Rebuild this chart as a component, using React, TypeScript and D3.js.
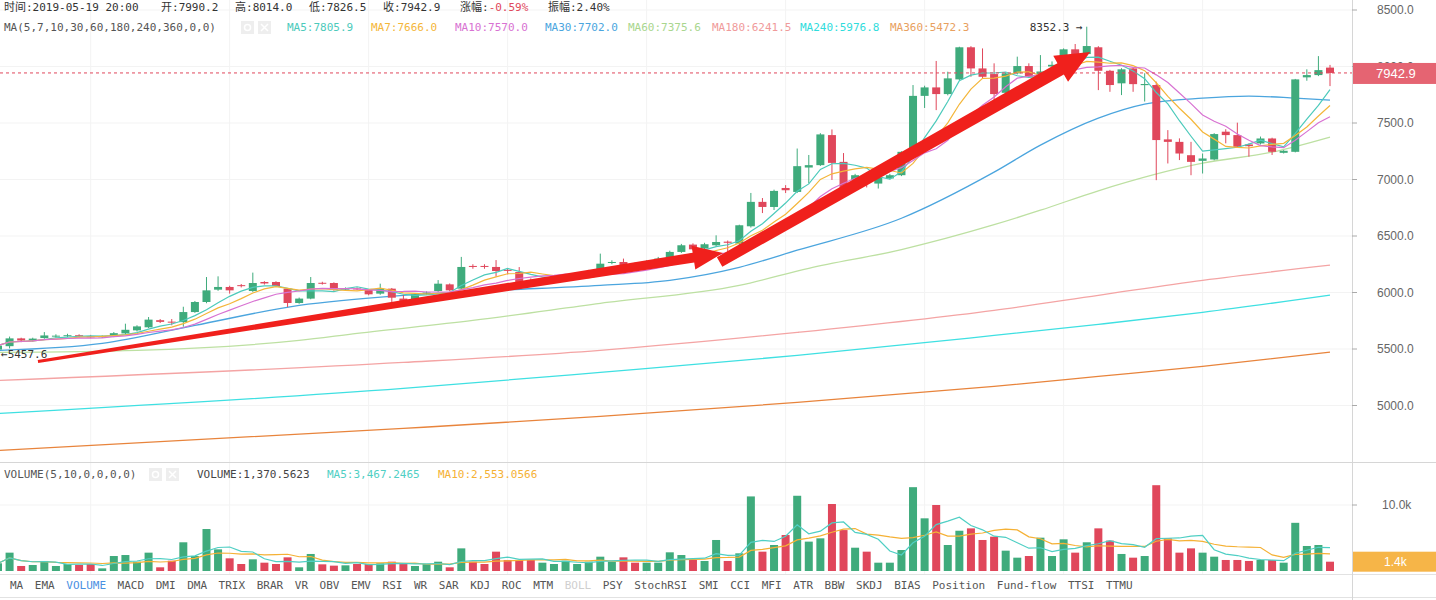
import React from "react";
import * as d3 from "d3";

// 4h candles, [open, high, low, close]
const ohlc: number[][] = [
  [5495, 5560, 5457.6, 5530], [5525, 5610, 5505, 5594], [5594, 5600, 5560, 5575], [5575, 5600, 5565, 5592],
  [5597, 5650, 5590, 5620], [5612, 5630, 5600, 5618], [5615, 5635, 5605, 5622], [5622, 5630, 5600, 5612],
  [5612, 5625, 5595, 5605], [5605, 5620, 5598, 5612], [5612, 5650, 5605, 5640], [5638, 5724, 5630, 5670],
  [5665, 5710, 5655, 5700], [5692, 5783, 5685, 5760], [5755, 5765, 5730, 5740], [5742, 5765, 5710, 5735],
  [5738, 5874, 5697, 5827], [5827, 5925, 5820, 5916], [5916, 6137, 5905, 6019], [6025, 6143, 6015, 6049],
  [6049, 6060, 5990, 6019], [6065, 6075, 6045, 6058], [6013, 6176, 6005, 6084], [6093, 6100, 6070, 6080],
  [6093, 6100, 6050, 6057], [6034, 6040, 5871, 5907], [5907, 5955, 5900, 5946], [5946, 6137, 5940, 6084],
  [6086, 6095, 6070, 6080], [6084, 6090, 6015, 6025], [6025, 6045, 6020, 6034], [6036, 6045, 6020, 6030],
  [6025, 6030, 5975, 5984], [5990, 6078, 5980, 6034], [6034, 6040, 5916, 5954], [5946, 5978, 5910, 5920],
  [5937, 5990, 5930, 5984], [5990, 6010, 5980, 6000], [6013, 6110, 6005, 6078], [6072, 6080, 6010, 6019],
  [6034, 6315, 6025, 6226], [6235, 6250, 6210, 6228], [6235, 6250, 6210, 6228], [6226, 6287, 6140, 6190],
  [6200, 6215, 6160, 6193], [6181, 6225, 6085, 6093], [6110, 6125, 6085, 6100], [6100, 6130, 6090, 6115],
  [6112, 6135, 6100, 6125], [6122, 6150, 6110, 6140], [6138, 6160, 6125, 6150], [6176, 6200, 6160, 6181],
  [6196, 6344, 6185, 6255], [6262, 6285, 6250, 6270], [6270, 6300, 6230, 6241], [6250, 6265, 6225, 6240],
  [6240, 6285, 6230, 6270], [6270, 6315, 6260, 6300], [6309, 6370, 6300, 6359], [6359, 6430, 6350, 6418],
  [6424, 6435, 6375, 6382], [6389, 6440, 6380, 6427], [6418, 6506, 6410, 6447], [6450, 6460, 6350, 6440],
  [6433, 6600, 6420, 6595], [6586, 6881, 6575, 6802], [6802, 6836, 6703, 6757], [6757, 6910, 6730, 6899],
  [6925, 6950, 6880, 6905], [6890, 7274, 6880, 7118], [7106, 7217, 6966, 7127], [7127, 7410, 7120, 7399],
  [7393, 7443, 6996, 7147], [7156, 7234, 6910, 6920], [6994, 7050, 6913, 7038], [7030, 7065, 6930, 7000],
  [6964, 7025, 6920, 7017], [7009, 7050, 7000, 7038], [7038, 7250, 7030, 7245], [7265, 7836, 7255, 7740],
  [7740, 7830, 7633, 7815], [7815, 8049, 7614, 7756], [7756, 7954, 7745, 7895], [7886, 8175, 7880, 8170],
  [8170, 8180, 7909, 7983], [7983, 8160, 7895, 7909], [7933, 8028, 7703, 7756], [7767, 7950, 7750, 7939],
  [7939, 8087, 7930, 8004], [8004, 8028, 7900, 7909], [7924, 8101, 7915, 7956], [8000, 8045, 7995, 8015],
  [8063, 8160, 8050, 8152], [8152, 8199, 8095, 8101], [8110, 8352.3, 8100, 8181], [8170, 8180, 7791, 7962],
  [7962, 7970, 7776, 7836], [7851, 7985, 7747, 7975], [7983, 7990, 7776, 7844], [7835, 7940, 7690, 7845],
  [7836, 7866, 6994, 7349], [7355, 7437, 7142, 7333], [7333, 7364, 7172, 7230], [7215, 7333, 7038, 7156],
  [7165, 7230, 7053, 7186], [7177, 7410, 7170, 7402], [7423, 7445, 7320, 7393], [7393, 7503, 7280, 7289],
  [7310, 7320, 7202, 7295], [7319, 7380, 7310, 7363], [7363, 7370, 7217, 7245], [7236, 7260, 7230, 7254],
  [7245, 7890, 7240, 7886], [7904, 7975, 7874, 7924], [7924, 8092, 7915, 7968], [7990.2, 8014.0, 7826.5, 7942.9],
];

// volume in thousands
const volumes = [
  1.17, 2.78, 0.76, 0.91, 1.52, 0.76, 1.06, 0.91, 1.06, 0.4, 2.27, 2.42, 1.41, 2.78, 0.56, 1.56,
  4.35, 2.27, 6.36, 3.28, 1.92, 1.06, 1.77, 1.26, 1.06, 2.07, 0.56, 2.58, 1.01, 0.81, 0.86, 1.06,
  1.06, 1.17, 1.41, 1.06, 0.76, 1.06, 1.41, 0.56, 3.43, 1.41, 1.06, 2.93, 1.67, 1.67, 1.67, 1.26,
  1.06, 1.56, 1.06, 1.41, 2.17, 1.41, 2.07, 1.26, 1.26, 1.26, 2.83, 2.42, 1.67, 1.52, 4.7, 1.52,
  2.68, 11.3, 2.93, 3.94, 5.45, 11.4, 4.45, 4.95, 10.15, 6.2, 3.53, 2.93, 1.26, 1.26, 3.18, 12.7,
  7.98, 10.0, 3.94, 6.1, 6.46, 4.7, 5.2, 3.08, 2.02, 2.27, 5.05, 2.27, 4.8, 2.78, 4.35, 6.46,
  4.6, 2.58, 2.02, 2.27, 13.0, 4.95, 2.78, 3.43, 2.78, 2.17, 1.67, 1.67, 1.52, 1.67, 1.67, 1.26,
  7.3, 3.79, 3.94, 1.41,
];

// long moving averages: [candle index, value]
const ma30Pts = [[0, 5488], [9, 5550], [17, 5709], [26, 5886], [35, 5975], [43, 6019], [52, 6063], [58, 6108],
  [64, 6223], [69, 6374], [78, 6657], [86, 7065], [90, 7304], [95, 7543], [99, 7667], [104, 7720], [108, 7738],
  [112, 7720], [115, 7702]];
const ma60Pts = [[0, 5470], [12, 5488], [26, 5576], [31, 5638], [41, 5753], [52, 5904], [64, 6063], [70, 6214],
  [78, 6380], [86, 6600], [90, 6728], [95, 6900], [104, 7144], [110, 7242], [115, 7375.6]];
const ma180Pts = [[0, 5222], [35, 5381], [52, 5488], [69, 5647], [86, 5842], [95, 5975], [104, 6108], [115, 6241.5]];
const ma240Pts = [[0, 4929], [35, 5151], [52, 5293], [69, 5443], [86, 5620], [95, 5718], [104, 5824], [115, 5976.8]];
const ma360Pts = [[0, 4602], [35, 4797], [52, 4903], [69, 5027], [86, 5169], [95, 5257], [104, 5346], [115, 5472.3]];

const priceTicks = [5000, 5500, 6000, 6500, 7000, 7500, 8000, 8500];
const indicators = ["MA", "EMA", "VOLUME", "MACD", "DMI", "DMA", "TRIX", "BRAR", "VR", "OBV", "EMV", "RSI", "WR",
  "SAR", "KDJ", "ROC", "MTM", "BOLL", "PSY", "StochRSI", "SMI", "CCI", "MFI", "ATR", "BBW", "SKDJ", "BIAS",
  "Position", "Fund-flow", "TTSI", "TTMU"];

// trend arrows drawn on the chart: [index, price] -> [index, price]
const trendArrows = [
  { from: [3.45, 5390], to: [62.6, 6350], w0: 3, w1: 10, head: 30, headW: 24 },
  { from: [62.3, 6270], to: [94.3, 8128], w0: 11, w1: 13, head: 34, headW: 30 },
];

const UP = "#3fab7c";
const DOWN = "#e0475b";
const MONO = "'DejaVu Sans Mono', 'Noto Sans CJK SC', monospace";
const SANS = "'Liberation Sans', Arial, sans-serif";

function movingAvg(vals: number[], n: number): [number, number][] {
  return vals.map((_, i) => {
    const s = vals.slice(Math.max(0, i - n + 1), i + 1);
    return [i, d3.mean(s) as number];
  });
}

function arrowPoly(sx: number, sy: number, tx: number, ty: number, w0: number, w1: number, head: number, headW: number) {
  const len = Math.hypot(tx - sx, ty - sy);
  const dx = (tx - sx) / len, dy = (ty - sy) / len;
  const nx = -dy, ny = dx;
  const bx = tx - dx * head, by = ty - dy * head;
  const pts = [
    [sx + nx * w0 / 2, sy + ny * w0 / 2],
    [bx + nx * w1 / 2, by + ny * w1 / 2],
    [bx + nx * headW / 2, by + ny * headW / 2],
    [tx, ty],
    [bx - nx * headW / 2, by - ny * headW / 2],
    [bx - nx * w1 / 2, by - ny * w1 / 2],
    [sx - nx * w0 / 2, sy - ny * w0 / 2],
  ];
  return pts.map(p => p.join(",")).join(" ");
}

export default function App() {
  const W = 1436, H = 600, axisX = 1352;
  const x = d3.scaleLinear().domain([0, 115]).range([-2, 1330]);
  const y = d3.scaleLinear().domain([4500, 8500]).range([462, 10]);
  const yv = d3.scaleLinear().domain([0, 10]).range([571, 505]);

  const closes = ohlc.map(d => d[3]);
  const smooth = d3.line<number[]>().x(d => x(d[0])).y(d => y(d[1])).curve(d3.curveMonotoneX);
  const straight = d3.line<number[]>().x(d => x(d[0])).y(d => y(d[1]));
  const volLine = d3.line<number[]>().x(d => x(d[0])).y(d => yv(d[1]));

  const shortMAs = [
    { n: 5, color: "#4ccabb" },
    { n: 7, color: "#f4b63a" },
    { n: 10, color: "#d872d2" },
  ];
  const longMAs = [
    { pts: ma360Pts, color: "#e8843c" },
    { pts: ma240Pts, color: "#3fe0e2" },
    { pts: ma180Pts, color: "#f4a4a4" },
    { pts: ma60Pts, color: "#bde0a2" },
    { pts: ma30Pts, color: "#4ba5de" },
  ];

  const last = ohlc[ohlc.length - 1];
  const hiIdx = d3.maxIndex(ohlc, d => d[1]);
  const loIdx = d3.minIndex(ohlc, d => d[2]);

  let cx = 10;
  const toolbar = indicators.map(t => {
    const item = { t, x: cx };
    cx += t.length * 6.62 + 11.6;
    return item;
  });

  const header2 = [
    { t: "MA5:7805.9", x: 287, c: "#4ccabb" },
    { t: "MA7:7666.0", x: 371, c: "#f4b63a" },
    { t: "MA10:7570.0", x: 455, c: "#d872d2" },
    { t: "MA30:7702.0", x: 545, c: "#4ba5de" },
    { t: "MA60:7375.6", x: 628, c: "#a9d68e" },
    { t: "MA180:6241.5", x: 712, c: "#f09a9a" },
    { t: "MA240:5976.8", x: 800, c: "#2fdcdc" },
    { t: "MA360:5472.3", x: 890, c: "#e8a060" },
  ];

  const icons = (x0: number, y0: number) => (
    <g>
      <rect x={x0} y={y0} width={13} height={13} fill="#eeeeee" />
      <circle cx={x0 + 6.5} cy={y0 + 6.5} r={3} fill="none" stroke="#fff" strokeWidth={1.5} />
      <rect x={x0 + 17} y={y0} width={13} height={13} fill="#eeeeee" />
      <path d={`M${x0 + 20},${y0 + 3}L${x0 + 27},${y0 + 10}M${x0 + 27},${y0 + 3}L${x0 + 20},${y0 + 10}`} stroke="#fff" strokeWidth={1.5} />
    </g>
  );

  return (
    <div style={{ position: "fixed", left: 0, top: 0 }}>
      <svg width={W} height={H} style={{ display: "block", background: "#fff" }}>
        <defs>
          <clipPath id="pricePane"><rect x={0} y={0} width={axisX} height={462} /></clipPath>
          <clipPath id="volPane"><rect x={0} y={463} width={axisX} height={111} /></clipPath>
        </defs>

        {/* grid */}
        {priceTicks.map(t => (
          <line key={t} x1={0} x2={axisX} y1={y(t)} y2={y(t)} stroke="#f3f3f3" />
        ))}
        {d3.range(8, 116, 12).map(i => (
          <line key={i} x1={x(i)} x2={x(i)} y1={0} y2={574} stroke="#f3f3f3" />
        ))}
        <line x1={0} x2={axisX} y1={yv(10)} y2={yv(10)} stroke="#f3f3f3" />

        {/* pane borders */}
        <line x1={0} x2={W} y1={462.5} y2={462.5} stroke="#d6d6d6" />
        <line x1={0} x2={W} y1={574.5} y2={574.5} stroke="#e2e2e2" />
        <line x1={0} x2={W} y1={597.5} y2={597.5} stroke="#e2e2e2" />
        <line x1={axisX + 0.5} x2={axisX + 0.5} y1={0} y2={H} stroke="#d6d6d6" />

        <g clipPath="url(#pricePane)">
          {longMAs.map((m, k) => (
            <path key={k} d={smooth(m.pts) || ""} fill="none" stroke={m.color} strokeWidth={1.3} />
          ))}
          {ohlc.map((d, i) => {
            const [o, h, l, c] = d;
            const col = c >= o ? UP : DOWN;
            const top = y(Math.max(o, c));
            const bh = Math.max(1, Math.abs(y(o) - y(c)));
            return (
              <g key={i}>
                <line x1={x(i)} x2={x(i)} y1={y(h)} y2={y(l)} stroke={col} strokeWidth={1} />
                <rect x={x(i) - 4} y={top} width={8} height={bh} fill={col} />
              </g>
            );
          })}
          {shortMAs.map(m => (
            <path key={m.n} d={straight(movingAvg(closes, m.n)) || ""} fill="none" stroke={m.color} strokeWidth={1.2} />
          ))}
          <line x1={0} x2={axisX} y1={y(last[3])} y2={y(last[3])} stroke={DOWN} strokeDasharray="3,3" strokeWidth={1} />
          {trendArrows.map((a, k) => (
            <polygon key={k} fill="#f0201c"
              points={arrowPoly(x(a.from[0]), y(a.from[1]), x(a.to[0]), y(a.to[1]), a.w0, a.w1, a.head, a.headW)} />
          ))}
          <text x={x(hiIdx) - 4} y={y(ohlc[hiIdx][1]) + 4} textAnchor="end" fontFamily={MONO} fontSize={11} fill="#333">
            {ohlc[hiIdx][1].toFixed(1)} →
          </text>
          <text x={x(loIdx) + 3} y={y(ohlc[loIdx][2]) + 4} fontFamily={MONO} fontSize={11} fill="#333">
            ←{ohlc[loIdx][2].toFixed(1)}
          </text>
        </g>

        <g clipPath="url(#volPane)">
          {volumes.map((v, i) => {
            const col = ohlc[i][3] >= ohlc[i][0] ? UP : DOWN;
            return <rect key={i} x={x(i) - 4} y={yv(v)} width={8} height={yv(0) - yv(v)} fill={col} />;
          })}
          <path d={volLine(movingAvg(volumes, 10)) || ""} fill="none" stroke="#f5b135" strokeWidth={1.2} />
          <path d={volLine(movingAvg(volumes, 5)) || ""} fill="none" stroke="#4fcfc4" strokeWidth={1.2} />
        </g>

        {/* price axis */}
        {priceTicks.map(t => (
          <g key={t}>
            <line x1={axisX} x2={axisX + 5} y1={y(t)} y2={y(t)} stroke="#aaa" />
            <text x={1377} y={y(t) + 4} fontFamily={SANS} fontSize={12} fill="#666">{t.toFixed(1)}</text>
          </g>
        ))}
        <rect x={axisX + 1} y={y(last[3]) - 10} width={W - axisX} height={21} fill="#e56472" />
        <text x={1376} y={y(last[3]) + 5} fontFamily={SANS} fontSize={13} fill="#fff">{last[3].toFixed(1)}</text>

        {/* volume axis */}
        <line x1={axisX} x2={axisX + 5} y1={yv(10)} y2={yv(10)} stroke="#aaa" />
        <text x={1382} y={yv(10) + 4} fontFamily={SANS} fontSize={12} fill="#666">10.0k</text>
        <rect x={axisX + 1} y={yv(volumes[volumes.length - 1]) - 10} width={W - axisX} height={20} fill="#f6b548" />
        <text x={1384} y={yv(volumes[volumes.length - 1]) + 4} fontFamily={SANS} fontSize={12} fill="#fff">
          {volumes[volumes.length - 1].toFixed(1)}k
        </text>

        {/* header */}
        <g fontFamily={MONO} fontSize={11} fill="#333">
          <text x={4} y={11}>时间:2019-05-19 20:00</text>
          <text x={161} y={11}>开:{last[0].toFixed(1)}</text>
          <text x={235} y={11}>高:{last[1].toFixed(1)}</text>
          <text x={309} y={11}>低:{last[2].toFixed(1)}</text>
          <text x={383} y={11}>收:{last[3].toFixed(1)}</text>
          <text x={460} y={11}>涨幅:<tspan fill={DOWN}>-0.59%</tspan></text>
          <text x={548} y={11}>振幅:2.40%</text>
          <text x={4} y={31} fill="#555">MA(5,7,10,30,60,180,240,360,0,0)</text>
          {header2.map(h => <text key={h.t} x={h.x} y={31} fill={h.c}>{h.t}</text>)}
          <text x={4} y={478} fill="#555">VOLUME(5,10,0,0,0,0)</text>
          <text x={197} y={478} fill="#444">VOLUME:1,370.5623</text>
          <text x={327} y={478} fill="#4fcfc4">MA5:3,467.2465</text>
          <text x={438} y={478} fill="#f5b135">MA10:2,553.0566</text>
        </g>
        {icons(241, 21)}
        {icons(149, 468)}

        {/* indicator toolbar */}
        <g fontFamily={MONO} fontSize={11}>
          {toolbar.map(b => (
            <text key={b.t} x={b.x} y={589}
              fill={b.t === "VOLUME" ? "#4a90e2" : b.t === "BOLL" ? "#cfcfcf" : "#555"}>{b.t}</text>
          ))}
        </g>
      </svg>
    </div>
  );
}
